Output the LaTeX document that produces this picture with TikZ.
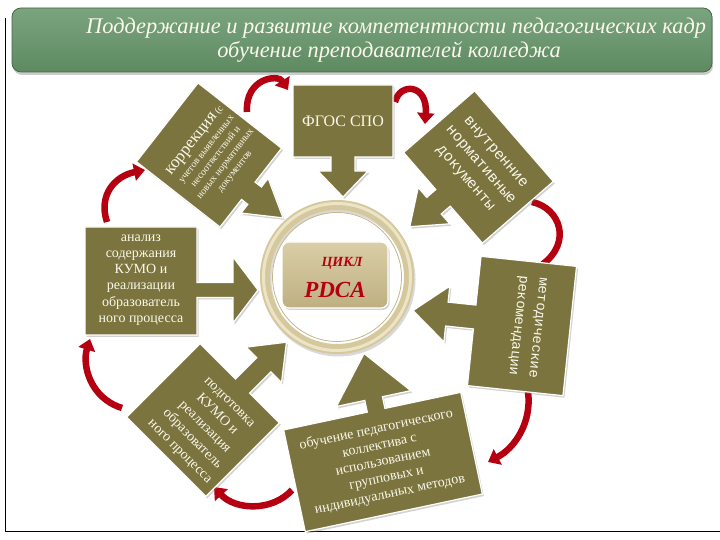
\documentclass[tikz,border=0pt]{standalone}
\usepackage{fontspec}
\setmainfont{Liberation Serif}
\newfontfamily\monof{Liberation Mono}
\usetikzlibrary{arrows.meta,shadows}
\definecolor{olv}{RGB}{124,116,62}
\definecolor{rd}{RGB}{180,0,16}
\definecolor{grA}{RGB}{122,164,126}
\definecolor{grB}{RGB}{94,138,98}
\definecolor{tanA}{RGB}{212,200,156}
\definecolor{tanB}{RGB}{236,228,198}
\definecolor{tanC}{RGB}{196,184,138}
\definecolor{boxA}{RGB}{218,206,166}
\definecolor{boxB}{RGB}{190,176,130}
\definecolor{txtc}{RGB}{250,248,235}
\tikzset{
  oshape/.style={fill=olv, draw=white, line width=1.2pt,
    drop shadow={opacity=0.35,shadow xshift=1.5pt,shadow yshift=-2pt}},
  wtext/.style={text=txtc, align=center, inner sep=0pt},
  redarc/.style={draw=rd, line width=6.5pt, -{Triangle[length=11pt,width=17pt]}},
  redarcplain/.style={draw=rd, line width=6.5pt},
  titletext/.style={text=txtc, inner sep=0pt, font=\fontsize{22.4}{25}\selectfont\itshape},
}
\newcommand\calloutshape[7]{%
  \fill[oshape] (-#1/2,-#2/2) -- (-#1/2,#2/2) -- (#1/2,#2/2) -- (#1/2,-#2/2)
  -- ({#7+#3/2},-#2/2) -- ({#7+#3/2},{-#2/2-#4}) -- ({#7+#5/2},{-#2/2-#4})
  -- ({#7},{-#2/2-#4-#6}) -- ({#7-#5/2},{-#2/2-#4}) -- ({#7-#3/2},{-#2/2-#4})
  -- ({#7-#3/2},-#2/2) -- cycle;}
\begin{document}
\begin{tikzpicture}[x=1pt,y=1pt]
\useasboundingbox[fill=white] (0,0) rectangle (720,540);
% frame
\draw[line width=1pt] (5,522) -- (5,8) -- (720,8);
% banner
\node[rounded corners=9pt, top color=grA, bottom color=grB, draw=grB!75!black,
  line width=0.8pt, minimum width=700, minimum height=64, inner sep=0pt,
  drop shadow={opacity=0.4,shadow xshift=1pt,shadow yshift=-3pt}] (banner) at (362,500) {};
\node[titletext, anchor=base west] (t1) at (86,506) {Поддержание и развитие компетентности педагогических кадр};
\node[titletext, anchor=base] (t2) at (389,482) {обучение преподавателей колледжа};
% red curved arrows
\coordinate (a1) at (247,428); \coordinate (a2) at (288,450);
\draw[redarc] (a1) .. controls (245,462) and (278,466) .. (a2);
\coordinate (b1) at (395,438); \coordinate (b2) at (425,416);
\draw[redarc] (b1) .. controls (400,458) and (428,456) .. (b2);
\coordinate (c1) at (532,338); \coordinate (c2) at (543,276);
\draw[redarcplain] (c1) .. controls (560,332) and (572,298) .. (c2);
\coordinate (d1) at (528,148); \coordinate (d2) at (488,78);
\draw[redarc] (d1) .. controls (532,118) and (515,92) .. (d2);
\coordinate (e1) at (292,50); \coordinate (e2) at (214,53);
\draw[redarc] (e1) .. controls (272,28) and (235,30) .. (e2);
\coordinate (f1) at (122,132); \coordinate (f2) at (90,201);
\draw[redarc] (f1) .. controls (90,142) and (82,175) .. (f2);
\coordinate (g1) at (107,318); \coordinate (g2) at (145,370);
\draw[redarc] (g1) .. controls (98,345) and (115,364) .. (g2);
% FGOS
\begin{scope}[shift={(343,419)}]
\calloutshape{100}{72}{24}{14}{50}{26}{0}
\end{scope}
\node[wtext, font=\fontsize{16}{18}\selectfont] (fgos) at (343,419) {ФГОС СПО};
% korrekcija
\begin{scope}[shift={(209,385)},rotate=52]
\calloutshape{100}{106}{22}{8}{44}{36}{-4}
\node[wtext, transform shape, font=\fontsize{10}{12}\selectfont] (korr) at (3,-5)
  {{\fontsize{17}{19}\selectfont коррекция} (с\\[2pt]учетов выявленных\\несоответствий и\\новых нормативных\\документов};
\end{scope}
% vnutrennie
\begin{scope}[shift={(478.5,373)},rotate=-49]
\calloutshape{120}{94}{22}{12}{48}{32}{0}
\node[wtext, transform shape, font=\monof\fontsize{15}{20}\selectfont] (vnutr) at (0,2)
  {внутренние\\нормативные\\документы};
\end{scope}
% metodicheskie
\begin{scope}[shift={(522,214)},rotate=-96]
\calloutshape{130}{96}{24}{28}{56}{34}{-4}
\node[wtext, transform shape, font=\monof\fontsize{14}{20}\selectfont] (metod) at (0,5)
  {методические\\рекомендации};
\end{scope}
% analiz
\begin{scope}[shift={(141,259)},rotate=90]
\calloutshape{108}{112}{15}{36}{66}{25}{-9}
\end{scope}
\node[wtext, font=\fontsize{14}{16.3}\selectfont] (anal) at (141,260)
  {анализ\\содержания\\КУМО и\\реализации\\образователь\\ного процесса};
% podgotovka
\begin{scope}[shift={(203,120)},rotate=135]
\calloutshape{112}{104}{20}{30}{50}{32}{-4}
\end{scope}
\begin{scope}[shift={(203,120)},rotate=-45]
\node[wtext, transform shape, font=\fontsize{14}{17.5}\selectfont] (podg) at (6,-5)
  {подготовка\\КУМО и\\реализация\\образователь\\ного процесса};
\end{scope}
% obuchenie
\begin{scope}[shift={(383,78)},rotate=192]
\calloutshape{181}{104}{18}{12}{76}{46}{-4}
\end{scope}
\begin{scope}[shift={(383,78)},rotate=12]
\node[wtext, transform shape, font=\fontsize{14}{16.5}\selectfont] (obuch) at (0,0)
  {обучение педагогического\\коллектива с\\использованием\\групповых и\\индивидуальных методов};
\end{scope}
% center ring
\coordinate (cc) at (337,263);
\draw[black!15, line width=10pt] ([shift={(1.5,-2.5)}]cc) circle (72);
\draw[tanA, line width=10pt] (cc) circle (72);
\draw[tanB, line width=3pt] (cc) circle (73.5);
\draw[tanC, line width=0.8pt] (cc) circle (64.5);
\node[draw=white, line width=1.2pt, rounded corners=7pt, top color=boxA, bottom color=boxB,
  minimum width=106, minimum height=66, inner sep=0pt,
  drop shadow={opacity=0.35,shadow xshift=1.5pt,shadow yshift=-2pt}] (pdcabox) at (335,265) {};
\node[text=rd, inner sep=0pt, font=\bfseries\itshape\fontsize{14}{16}\selectfont] (cikl) at (342,277) {ЦИКЛ};
\node[text=rd, inner sep=0pt, font=\bfseries\itshape\fontsize{23}{26}\selectfont] (pdca) at (335,250) {PDCA};
\end{tikzpicture}
\end{document}
